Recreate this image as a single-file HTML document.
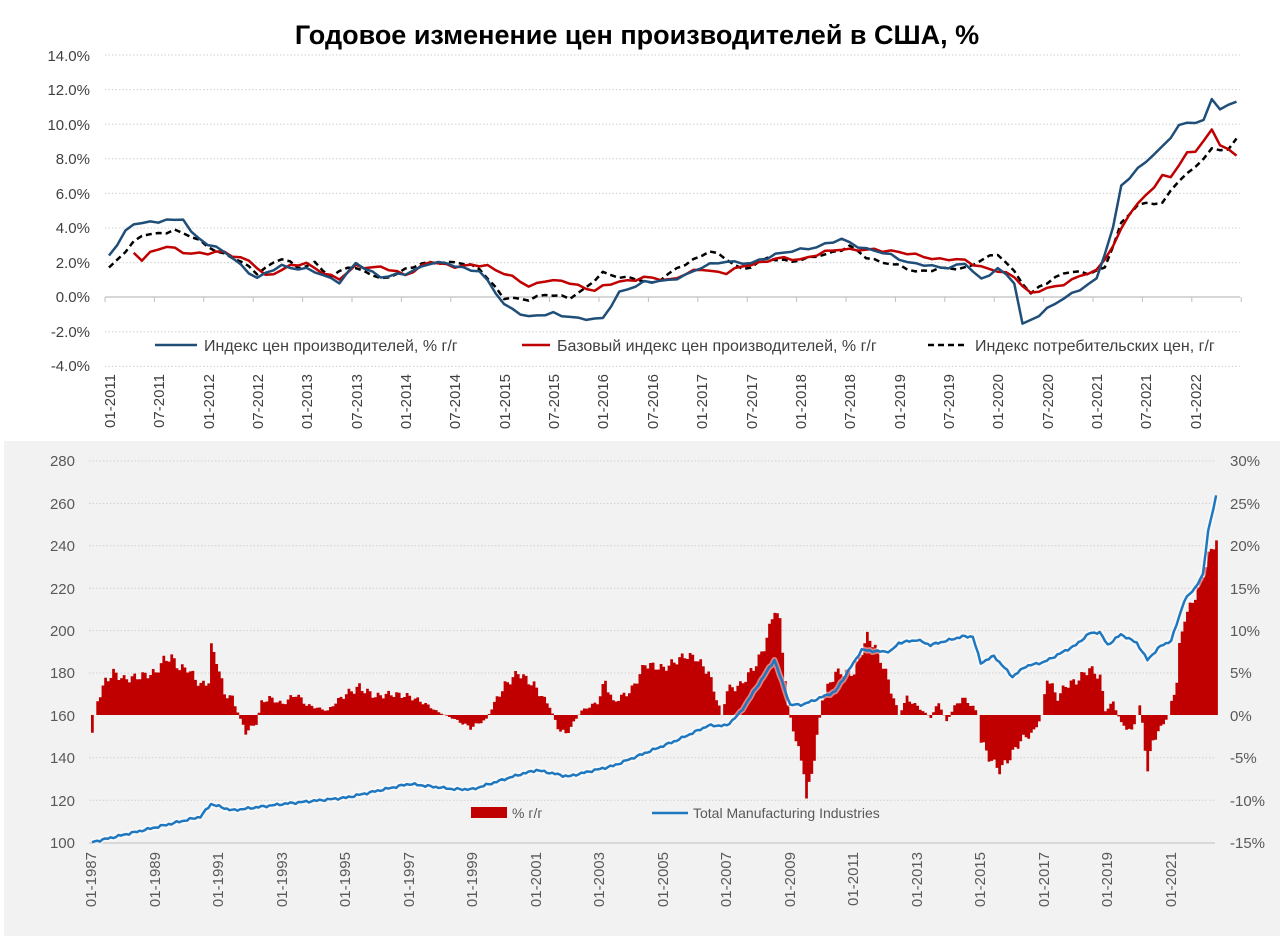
<!DOCTYPE html>
<html><head><meta charset="utf-8"><style>
html,body{margin:0;padding:0;background:#fff;}
svg{display:block;font-family:"Liberation Sans","DejaVu Sans",sans-serif;}
</style></head><body>
<svg id="s" width="1280" height="936" viewBox="0 0 1280 936" xmlns="http://www.w3.org/2000/svg">
<rect x="0" y="0" width="1280" height="936" fill="#fff"/>
<text x="637" y="44" text-anchor="middle" font-size="27" font-weight="bold" fill="#000">Годовое изменение цен производителей в США, %</text>
<g id="topgrid"></g>
<g font-size="15" fill="#404040" text-anchor="end">
<text x="90" y="61">14.0%</text><text x="90" y="95">12.0%</text><text x="90" y="130">10.0%</text><text x="90" y="164">8.0%</text><text x="90" y="199">6.0%</text><text x="90" y="233">4.0%</text><text x="90" y="268">2.0%</text><text x="90" y="302">0.0%</text><text x="90" y="337">-2.0%</text><text x="90" y="371">-4.0%</text>
</g>
<g font-size="15" fill="#404040" text-anchor="end">
<text transform="translate(115,374) rotate(-90)">01-2011</text>
<text transform="translate(164,374) rotate(-90)">07-2011</text>
<text transform="translate(214,374) rotate(-90)">01-2012</text>
<text transform="translate(263,374) rotate(-90)">07-2012</text>
<text transform="translate(312,374) rotate(-90)">01-2013</text>
<text transform="translate(362,374) rotate(-90)">07-2013</text>
<text transform="translate(411,374) rotate(-90)">01-2014</text>
<text transform="translate(460,374) rotate(-90)">07-2014</text>
<text transform="translate(510,374) rotate(-90)">01-2015</text>
<text transform="translate(559,374) rotate(-90)">07-2015</text>
<text transform="translate(608,374) rotate(-90)">01-2016</text>
<text transform="translate(658,374) rotate(-90)">07-2016</text>
<text transform="translate(707,374) rotate(-90)">01-2017</text>
<text transform="translate(757,374) rotate(-90)">07-2017</text>
<text transform="translate(806,374) rotate(-90)">01-2018</text>
<text transform="translate(855,374) rotate(-90)">07-2018</text>
<text transform="translate(905,374) rotate(-90)">01-2019</text>
<text transform="translate(954,374) rotate(-90)">07-2019</text>
<text transform="translate(1003,374) rotate(-90)">01-2020</text>
<text transform="translate(1053,374) rotate(-90)">07-2020</text>
<text transform="translate(1102,374) rotate(-90)">01-2021</text>
<text transform="translate(1151,374) rotate(-90)">07-2021</text>
<text transform="translate(1201,374) rotate(-90)">01-2022</text>
</g>
<g id="toplines"></g>
<rect x="150" y="333" width="1090" height="24" fill="#fff"/>
<line x1="155" y1="345" x2="197" y2="345" stroke="#1f4e79" stroke-width="2.5"/>
<text x="204" y="351" font-size="16" fill="#404040">Индекс цен производителей, % г/г</text>
<line x1="522" y1="345" x2="550" y2="345" stroke="#c00000" stroke-width="2.5"/>
<text x="557" y="351" font-size="16" fill="#404040">Базовый индекс цен производителей, % г/г</text>
<line x1="928" y1="345" x2="968" y2="345" stroke="#000" stroke-width="2.5" stroke-dasharray="6,4"/>
<text x="975" y="351" font-size="16" fill="#404040">Индекс потребительских цен, г/г</text>

<rect x="4" y="441" width="1276" height="495" fill="#f2f2f2"/>
<g id="botgrid"></g>
<g font-size="15" fill="#595959" text-anchor="end">
<text x="75" y="466">280</text><text x="75" y="509">260</text><text x="75" y="551">240</text><text x="75" y="594">220</text><text x="75" y="636">200</text><text x="75" y="678">180</text><text x="75" y="721">160</text><text x="75" y="763">140</text><text x="75" y="806">120</text><text x="75" y="848">100</text>
</g>
<g font-size="15" fill="#595959">
<text x="1230" y="466">30%</text><text x="1230" y="509">25%</text><text x="1230" y="551">20%</text><text x="1230" y="594">15%</text><text x="1230" y="636">10%</text><text x="1230" y="678">5%</text><text x="1230" y="721">0%</text><text x="1230" y="763">-5%</text><text x="1230" y="806">-10%</text><text x="1230" y="848">-15%</text>
</g>
<g font-size="15" fill="#595959" text-anchor="end">
<text transform="translate(96,852) rotate(-90)">01-1987</text>
<text transform="translate(160,852) rotate(-90)">01-1989</text>
<text transform="translate(223,852) rotate(-90)">01-1991</text>
<text transform="translate(287,852) rotate(-90)">01-1993</text>
<text transform="translate(350,852) rotate(-90)">01-1995</text>
<text transform="translate(414,852) rotate(-90)">01-1997</text>
<text transform="translate(477,852) rotate(-90)">01-1999</text>
<text transform="translate(541,852) rotate(-90)">01-2001</text>
<text transform="translate(604,852) rotate(-90)">01-2003</text>
<text transform="translate(668,852) rotate(-90)">01-2005</text>
<text transform="translate(731,852) rotate(-90)">01-2007</text>
<text transform="translate(795,852) rotate(-90)">01-2009</text>
<text transform="translate(858,852) rotate(-90)">01-2011</text>
<text transform="translate(922,852) rotate(-90)">01-2013</text>
<text transform="translate(985,852) rotate(-90)">01-2015</text>
<text transform="translate(1049,852) rotate(-90)">01-2017</text>
<text transform="translate(1112,852) rotate(-90)">01-2019</text>
<text transform="translate(1176,852) rotate(-90)">01-2021</text>
</g>
<g id="botseries"></g>
<rect x="471" y="807" width="36" height="11" fill="#c00000"/>
<text x="512" y="818" font-size="14" fill="#595959">% г/г</text>
<line x1="652" y1="813" x2="688" y2="813" stroke="#1f77c0" stroke-width="2.5"/>
<text x="693" y="818" font-size="14" fill="#595959">Total Manufacturing Industries</text>
</svg>
<script>
var NS="http://www.w3.org/2000/svg";
function el(p,t,a){var e=document.createElementNS(NS,t);for(var k in a)e.setAttribute(k,a[k]);document.getElementById(p).appendChild(e);return e;}
function interp(keys,y0){var out={};for(var j=0;j<keys.length-1;j++){var a=keys[j],b=keys[j+1];var ia=(a[0]-y0)*12+a[1]-1,ib=(b[0]-y0)*12+b[1]-1;for(var i=ia;i<=ib;i++){out[i]=a[2]+(b[2]-a[2])*(ib==ia?0:(i-ia)/(ib-ia));}}return out;}
function nz(i,seed){return Math.sin(i*2.3+seed)*0.6+Math.sin(i*5.1+seed*2)*0.4;}
for(var k=0;k<10;k++){var y=55+k*34.6;if(k==7)continue;el("topgrid","line",{x1:105,x2:1240,y1:y,y2:y,stroke:"#d0d0d0","stroke-width":1,"stroke-dasharray":"1.5,2"});}
el("topgrid","line",{x1:105,x2:1240,y1:297,y2:297,stroke:"#bfbfbf","stroke-width":1.2});
for(var k=0;k<=23;k++){var x=105+k*49.4;el("topgrid","line",{x1:x,x2:x,y1:297,y2:302,stroke:"#bfbfbf","stroke-width":1});}
function tpath(keys,stroke,dash,seed){var d=interp(keys,2011),s="";for(var i in d){var x=109+i*8.23,y=297-(d[i]+0.12*nz(+i,seed))*17.3;s+=(s?"L":"M")+x.toFixed(1)+","+y.toFixed(1);}var a={d:s,fill:"none",stroke:stroke,"stroke-width":2.5,"stroke-linejoin":"round"};if(dash)a["stroke-dasharray"]=dash;el("toplines","path",a);}
var blue=[[2011,1,2.4],[2011,3,3.8],[2011,4,4.2],[2011,6,4.3],[2011,8,4.5],[2011,9,4.4],[2011,10,4.5],[2011,11,3.7],[2012,1,3.1],[2012,3,2.6],[2012,7,1.1],[2012,10,1.8],[2013,1,1.6],[2013,5,0.9],[2013,7,1.9],[2013,10,1.2],[2014,1,1.3],[2014,4,2.0],[2014,6,1.9],[2014,10,1.5],[2015,1,-0.4],[2015,4,-1.2],[2015,7,-0.9],[2015,10,-1.3],[2016,1,-1.2],[2016,3,0.2],[2016,6,0.9],[2016,9,0.9],[2017,1,1.7],[2017,4,2.1],[2017,7,1.9],[2017,10,2.5],[2018,1,2.7],[2018,6,3.3],[2018,9,2.8],[2018,12,2.4],[2019,3,1.9],[2019,6,1.7],[2019,9,1.9],[2019,11,1.0],[2020,1,1.7],[2020,3,0.8],[2020,4,-1.6],[2020,8,-0.4],[2020,11,0.5],[2021,1,1.0],[2021,3,4.0],[2021,4,6.5],[2021,7,7.8],[2021,9,8.7],[2021,11,9.9],[2022,2,10.2],[2022,3,11.5],[2022,4,10.9],[2022,5,11.0],[2022,6,11.3]];
var red=[[2011,4,2.5],[2011,5,2.2],[2011,6,2.6],[2011,8,2.9],[2011,10,2.6],[2012,1,2.5],[2012,3,2.6],[2012,6,2.1],[2012,8,1.2],[2012,11,1.8],[2013,1,1.9],[2013,5,1.0],[2013,7,1.8],[2013,10,1.7],[2014,1,1.3],[2014,4,2.0],[2014,7,1.8],[2014,11,1.8],[2015,1,1.4],[2015,4,0.6],[2015,6,1.0],[2015,9,0.8],[2015,12,0.4],[2016,3,0.9],[2016,6,1.1],[2016,9,1.0],[2017,1,1.6],[2017,4,1.4],[2017,7,1.9],[2017,10,2.2],[2018,1,2.2],[2018,6,2.8],[2018,9,2.7],[2018,12,2.7],[2019,3,2.4],[2019,6,2.2],[2019,9,2.1],[2019,12,1.6],[2020,3,1.2],[2020,5,0.2],[2020,8,0.6],[2020,11,1.2],[2021,1,1.5],[2021,3,3.0],[2021,5,4.8],[2021,7,5.9],[2021,9,7.0],[2021,10,6.9],[2021,12,8.3],[2022,1,8.5],[2022,3,9.6],[2022,4,8.8],[2022,6,8.2]];
var cpi=[[2011,1,1.6],[2011,4,3.2],[2011,5,3.6],[2011,7,3.6],[2011,9,3.9],[2011,11,3.5],[2012,1,2.9],[2012,4,2.3],[2012,7,1.4],[2012,9,2.0],[2012,10,2.2],[2012,12,1.7],[2013,2,2.0],[2013,4,1.1],[2013,6,1.8],[2013,8,1.5],[2013,10,1.0],[2014,1,1.6],[2014,4,2.0],[2014,7,2.0],[2014,10,1.7],[2015,1,-0.1],[2015,4,-0.1],[2015,6,0.1],[2015,9,0.0],[2015,11,0.5],[2016,1,1.4],[2016,4,1.1],[2016,7,0.8],[2016,10,1.6],[2017,2,2.7],[2017,6,1.6],[2017,9,2.2],[2017,12,2.1],[2018,2,2.2],[2018,7,2.9],[2018,9,2.3],[2018,12,1.9],[2019,3,1.5],[2019,6,1.6],[2019,9,1.7],[2019,12,2.3],[2020,1,2.5],[2020,3,1.5],[2020,5,0.1],[2020,6,0.6],[2020,9,1.4],[2020,12,1.4],[2021,2,1.7],[2021,4,4.2],[2021,6,5.4],[2021,9,5.4],[2021,11,6.8],[2022,1,7.5],[2022,3,8.5],[2022,5,8.6],[2022,6,9.1]];
tpath(cpi,"#000","6,4",1);tpath(red,"#c00000",null,2);tpath(blue,"#1f4e79",null,3);
for(var k=0;k<9;k++){var y=461+k*42.4;if(k==6)continue;el("botgrid","line",{x1:89,x2:1215,y1:y,y2:y,stroke:"#d0d0d0","stroke-width":1,"stroke-dasharray":"1.5,2"});}
el("botgrid","line",{x1:89,x2:1215,y1:843,y2:843,stroke:"#c8c8c8","stroke-width":1.2});
var bars=[[1987,1,-2.1],[1987,2,0],[1987,3,1.7],[1987,6,4],[1987,9,5],[1988,1,4.2],[1988,6,4.5],[1989,1,5],[1989,4,6.5],[1989,7,6.8],[1989,10,5.5],[1990,1,5.5],[1990,6,3.5],[1990,9,4],[1990,10,8],[1990,12,6.5],[1991,3,2.5],[1991,6,2],[1991,9,-0.5],[1991,11,-2],[1992,3,-1],[1992,5,1.5],[1992,8,2],[1993,1,1.3],[1993,6,2.5],[1993,10,1.2],[1994,6,0.5],[1994,9,1.5],[1995,1,2.5],[1995,6,3.3],[1995,12,2.2],[1996,6,2.5],[1997,1,2.2],[1997,6,1.5],[1997,12,0.3],[1998,6,-0.5],[1998,12,-1.5],[1999,6,-0.5],[1999,10,2],[2000,1,3.5],[2000,6,5],[2000,12,3.5],[2001,6,1],[2001,9,-1.5],[2001,12,-2.3],[2002,6,0.5],[2002,12,1.5],[2003,3,4],[2003,6,1.5],[2004,1,3],[2004,6,6],[2005,1,5.5],[2005,9,7],[2006,1,6.8],[2006,6,5],[2006,11,0],[2007,1,3],[2007,6,3.5],[2007,12,6],[2008,3,8],[2008,7,12.5],[2008,9,11],[2008,12,1],[2009,3,-3],[2009,6,-6.5],[2009,7,-10],[2009,10,-5],[2010,1,2],[2010,6,5],[2011,1,5],[2011,6,9.3],[2011,9,8],[2012,1,5],[2012,6,0],[2012,9,2],[2013,1,1],[2013,6,-0.3],[2013,9,1.5],[2013,12,-0.8],[2014,3,1],[2014,6,2],[2014,10,1],[2014,12,0],[2015,1,-3],[2015,4,-5],[2015,8,-6.5],[2015,12,-5],[2016,4,-3],[2016,9,-2],[2016,12,0],[2017,2,4.5],[2017,6,2],[2017,9,3.5],[2018,1,4],[2018,6,5.5],[2018,10,4.5],[2018,12,0.5],[2019,3,1.5],[2019,6,-1],[2019,10,-2],[2020,1,1],[2020,2,-1],[2020,4,-6.5],[2020,6,-3],[2020,10,-1],[2020,12,0],[2021,1,1.5],[2021,3,4],[2021,4,8],[2021,6,11.5],[2021,10,14],[2021,12,15.5],[2022,3,18.8],[2022,6,20.6]];
var bd=interp(bars,1987),bp="";
for(var i in bd){var v=bd[i]+0.5*Math.sin(i*1.7)*Math.min(1,Math.abs(bd[i])/3);var x=91+i*2.645,y=715-v*8.49;bp+="M"+x.toFixed(2)+",715V"+y.toFixed(1)+"H"+(x+2.75).toFixed(2)+"V715Z";}
el("botseries","path",{d:bp,fill:"#c00000"});
var tm=[[1987,1,100],[1989,1,107],[1990,6,112],[1990,10,118],[1991,6,115],[1993,1,118],[1995,1,121],[1997,1,127.5],[1998,6,125],[1999,1,125],[2000,6,131.7],[2001,1,134],[2002,1,131],[2003,6,136],[2004,6,142],[2005,6,148],[2006,6,155],[2007,1,155],[2007,6,161],[2008,7,186],[2009,1,164.7],[2009,6,165],[2010,6,171],[2011,4,190.7],[2011,10,190],[2012,3,190],[2012,6,194],[2013,1,195.4],[2013,6,193],[2014,6,197],[2014,10,197],[2015,1,184.5],[2015,6,187.8],[2016,1,178],[2016,6,183],[2017,1,185],[2018,1,193],[2018,6,198.5],[2018,10,199],[2019,1,193],[2019,6,198],[2019,12,194],[2020,4,186],[2020,9,192.5],[2021,1,195],[2021,6,214],[2021,10,220],[2022,1,226],[2022,3,247],[2022,6,263]];
var td=interp(tm,1987),tp="";
for(var i in td){var x=92+i*2.645,y=715-(td[i]+0.6*nz(+i,4)-160)*2.12;tp+=(tp?"L":"M")+x.toFixed(1)+","+y.toFixed(1);}
el("botseries","path",{d:tp,fill:"none",stroke:"#fff","stroke-width":6,"stroke-opacity":0.5,"stroke-linejoin":"round"});
el("botseries","path",{d:tp,fill:"none",stroke:"#1f77c0","stroke-width":2.5,"stroke-linejoin":"round"});
</script>
</body></html>
